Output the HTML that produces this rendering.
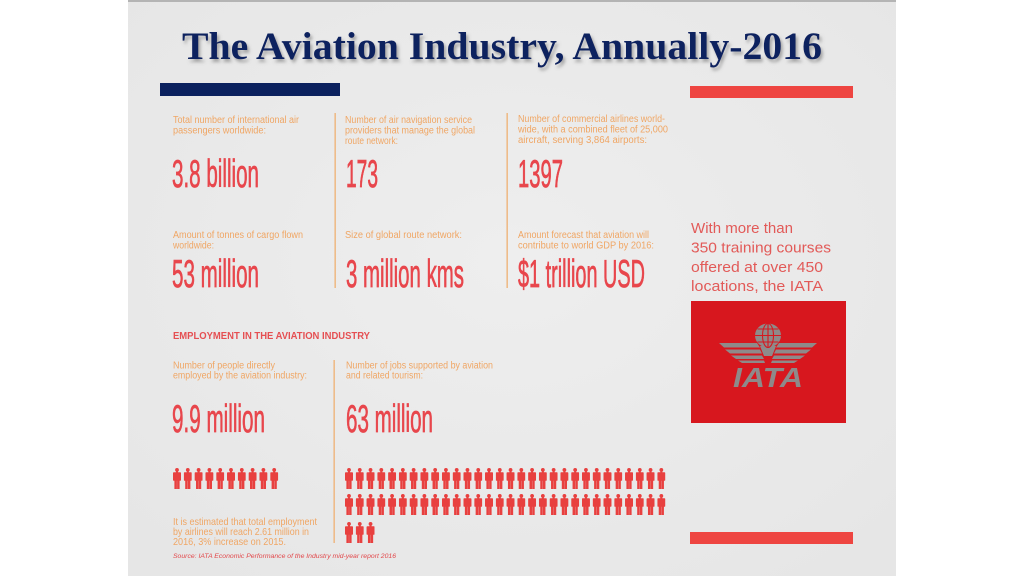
<!DOCTYPE html>
<html>
<head>
<meta charset="utf-8">
<style>
  html,body{margin:0;padding:0;background:#ffffff;}
  svg{display:block;}
  .lbl{font-family:"Liberation Sans",sans-serif;font-size:10px;fill:#f0a664;}
  .big{font-family:"Liberation Sans Narrow","Liberation Sans",sans-serif;font-size:39px;font-weight:normal;fill:#e8464c;stroke:#e8464c;stroke-width:0.7px;}
  .rt{font-family:"Liberation Sans",sans-serif;font-size:15px;fill:#e25a58;}
</style>
</head>
<body>
<svg width="1024" height="576" viewBox="0 0 1024 576" xmlns="http://www.w3.org/2000/svg">
  <defs>
    <radialGradient id="bg" cx="50%" cy="45%" r="70%">
      <stop offset="0" stop-color="#eeeeee"/>
      <stop offset="1" stop-color="#e6e6e6"/>
    </radialGradient>
    <filter id="sh" x="-5%" y="-20%" width="110%" height="150%">
      <feDropShadow dx="2" dy="3" stdDeviation="1.6" flood-color="#6a6a6a" flood-opacity="0.55"/>
    </filter>
    <symbol id="fig" viewBox="0 0 8 21" width="8" height="21">
      <circle cx="4" cy="1.9" r="1.9" fill="#e8403f"/>
      <rect x="3" y="3" width="2" height="2" fill="#e8403f"/>
      <rect x="0" y="4.2" width="8" height="8.6" rx="0.8" fill="#e8403f"/>
      <rect x="1.4" y="12" width="2.5" height="9" fill="#e8403f"/>
      <rect x="4.1" y="12" width="2.5" height="9" fill="#e8403f"/>
    </symbol>
  </defs>

  <!-- panel -->
  <rect x="128" y="0" width="768" height="576" fill="url(#bg)"/>
  <rect x="128" y="0" width="768" height="2" fill="#b4b4b4"/>

  <!-- title -->
  <text x="182" y="59" textLength="640" lengthAdjust="spacingAndGlyphs" filter="url(#sh)"
        style="font-family:'Liberation Serif',serif;font-weight:bold;font-size:39px;fill:#0f205e;">The Aviation Industry, Annually-2016</text>

  <!-- bars -->
  <rect x="160" y="83" width="180" height="13" fill="#0b215e"/>
  <rect x="690" y="86" width="163" height="12" fill="#ee4541"/>
  <rect x="690" y="532" width="163" height="12" fill="#ee4541"/>

  <!-- dividers -->
  <rect x="334.5" y="113" width="1.3" height="175" fill="#efb072"/>
  <rect x="506.5" y="113" width="1.3" height="175" fill="#efb072"/>
  <rect x="333.5" y="360" width="1.3" height="183" fill="#efb072"/>

  <!-- column 1 -->
  <text class="lbl" x="173" y="123" textLength="126" lengthAdjust="spacingAndGlyphs">Total number of international air</text>
  <text class="lbl" x="173" y="133.5" textLength="93" lengthAdjust="spacingAndGlyphs">passengers worldwide:</text>
  <text class="big" x="172" y="187" textLength="87" lengthAdjust="spacingAndGlyphs">3.8 billion</text>
  <text class="lbl" x="173" y="238" textLength="130" lengthAdjust="spacingAndGlyphs">Amount of tonnes of cargo flown</text>
  <text class="lbl" x="173" y="248.5" textLength="41" lengthAdjust="spacingAndGlyphs">worldwide:</text>
  <text class="big" x="172" y="287" textLength="87" lengthAdjust="spacingAndGlyphs">53 million</text>

  <!-- column 2 -->
  <text class="lbl" x="345" y="123" textLength="127" lengthAdjust="spacingAndGlyphs">Number of air navigation service</text>
  <text class="lbl" x="345" y="133.5" textLength="130" lengthAdjust="spacingAndGlyphs">providers that manage the global</text>
  <text class="lbl" x="345" y="144" textLength="53" lengthAdjust="spacingAndGlyphs">route network:</text>
  <text class="big" x="346" y="187" textLength="32" lengthAdjust="spacingAndGlyphs">173</text>
  <text class="lbl" x="345" y="238" textLength="117" lengthAdjust="spacingAndGlyphs">Size of global route network:</text>
  <text class="big" x="346" y="287" textLength="118" lengthAdjust="spacingAndGlyphs">3 million kms</text>

  <!-- column 3 -->
  <text class="lbl" x="518" y="122" textLength="147" lengthAdjust="spacingAndGlyphs">Number of commercial airlines world-</text>
  <text class="lbl" x="518" y="132.5" textLength="150" lengthAdjust="spacingAndGlyphs">wide, with a combined fleet of 25,000</text>
  <text class="lbl" x="518" y="143" textLength="129" lengthAdjust="spacingAndGlyphs">aircraft, serving 3,864 airports:</text>
  <text class="big" x="518" y="187" textLength="45" lengthAdjust="spacingAndGlyphs">1397</text>
  <text class="lbl" x="518" y="238" textLength="131" lengthAdjust="spacingAndGlyphs">Amount forecast that aviation will</text>
  <text class="lbl" x="518" y="248.5" textLength="136" lengthAdjust="spacingAndGlyphs">contribute to world GDP by 2016:</text>
  <text class="big" x="518" y="287" textLength="127" lengthAdjust="spacingAndGlyphs">$1 trillion USD</text>

  <!-- right text -->
  <text class="rt" x="691" y="233" textLength="102" lengthAdjust="spacingAndGlyphs">With more than</text>
  <text class="rt" x="691" y="252.5" textLength="140" lengthAdjust="spacingAndGlyphs">350 training courses</text>
  <text class="rt" x="691" y="272" textLength="132" lengthAdjust="spacingAndGlyphs">offered at over 450</text>
  <text class="rt" x="691" y="291" textLength="132" lengthAdjust="spacingAndGlyphs">locations, the IATA</text>

  <!-- IATA logo box -->
  <rect x="691" y="301" width="155" height="122" fill="#d7171e"/>
  <g fill="#8e8a8a">
    <ellipse cx="768" cy="335.5" rx="13" ry="12"/>
    <path d="M760 346 L776 346 L772 356 L764 356 Z"/>
    <path d="M719 343 L757 343 L760 347.5 L724 347.5 Z"/>
    <path d="M725 349.5 L760 349.5 L762 353.5 L730 353.5 Z"/>
    <path d="M731 355.5 L762 355.5 L764 359 L736 359 Z"/>
    <path d="M738 360.5 L764 360.5 L765 363 L742 363 Z"/>
    <path d="M817 343 L779 343 L776 347.5 L812 347.5 Z"/>
    <path d="M811 349.5 L776 349.5 L774 353.5 L806 353.5 Z"/>
    <path d="M805 355.5 L774 355.5 L772 359 L800 359 Z"/>
    <path d="M798 360.5 L772 360.5 L771 363 L794 363 Z"/>
  </g>
  <g stroke="#d7171e" stroke-width="1.1" fill="none">
    <ellipse cx="768" cy="335.5" rx="5.5" ry="12"/>
    <line x1="768" y1="323.5" x2="768" y2="347.5"/>
    <line x1="755" y1="335.5" x2="781" y2="335.5"/>
    <line x1="757.5" y1="329" x2="778.5" y2="329"/>
    <line x1="757.5" y1="342" x2="778.5" y2="342"/>
  </g>
  <text x="733" y="387" textLength="70" lengthAdjust="spacingAndGlyphs"
        style="font-family:'Liberation Sans',sans-serif;font-weight:bold;font-style:italic;font-size:28px;fill:#8e8a8a;">IATA</text>

  <!-- employment -->
  <text x="173" y="339" textLength="197" lengthAdjust="spacingAndGlyphs"
        style="font-family:'Liberation Sans',sans-serif;font-weight:bold;font-size:9.8px;fill:#e54f52;">EMPLOYMENT IN THE AVIATION INDUSTRY</text>
  <text class="lbl" x="173" y="368.5" textLength="102" lengthAdjust="spacingAndGlyphs">Number of people directly</text>
  <text class="lbl" x="173" y="378.5" textLength="134" lengthAdjust="spacingAndGlyphs">employed by the aviation industry:</text>
  <text class="lbl" x="346" y="368.5" textLength="147" lengthAdjust="spacingAndGlyphs">Number of jobs supported by aviation</text>
  <text class="lbl" x="346" y="378.5" textLength="77" lengthAdjust="spacingAndGlyphs">and related tourism:</text>
  <text class="big" x="172" y="432" textLength="93" lengthAdjust="spacingAndGlyphs">9.9 million</text>
  <text class="big" x="346" y="432" textLength="87" lengthAdjust="spacingAndGlyphs">63 million</text>

  <!-- figures left (10) -->
  <g>
    <use href="#fig" x="173" y="468"/>
    <use href="#fig" x="183.8" y="468"/>
    <use href="#fig" x="194.6" y="468"/>
    <use href="#fig" x="205.4" y="468"/>
    <use href="#fig" x="216.2" y="468"/>
    <use href="#fig" x="227" y="468"/>
    <use href="#fig" x="237.8" y="468"/>
    <use href="#fig" x="248.6" y="468"/>
    <use href="#fig" x="259.4" y="468"/>
    <use href="#fig" x="270.2" y="468"/>
  </g>

  <!-- figures right: rows of 30, 30, 3 -->
  <g id="row1">
    <use href="#fig" x="345" y="468"/>
    <use href="#fig" x="355.77" y="468"/>
    <use href="#fig" x="366.54" y="468"/>
    <use href="#fig" x="377.31" y="468"/>
    <use href="#fig" x="388.08" y="468"/>
    <use href="#fig" x="398.85" y="468"/>
    <use href="#fig" x="409.62" y="468"/>
    <use href="#fig" x="420.39" y="468"/>
    <use href="#fig" x="431.16" y="468"/>
    <use href="#fig" x="441.93" y="468"/>
    <use href="#fig" x="452.7" y="468"/>
    <use href="#fig" x="463.47" y="468"/>
    <use href="#fig" x="474.24" y="468"/>
    <use href="#fig" x="485.01" y="468"/>
    <use href="#fig" x="495.78" y="468"/>
    <use href="#fig" x="506.55" y="468"/>
    <use href="#fig" x="517.32" y="468"/>
    <use href="#fig" x="528.09" y="468"/>
    <use href="#fig" x="538.86" y="468"/>
    <use href="#fig" x="549.63" y="468"/>
    <use href="#fig" x="560.4" y="468"/>
    <use href="#fig" x="571.17" y="468"/>
    <use href="#fig" x="581.94" y="468"/>
    <use href="#fig" x="592.71" y="468"/>
    <use href="#fig" x="603.48" y="468"/>
    <use href="#fig" x="614.25" y="468"/>
    <use href="#fig" x="625.02" y="468"/>
    <use href="#fig" x="635.79" y="468"/>
    <use href="#fig" x="646.56" y="468"/>
    <use href="#fig" x="657.33" y="468"/>
  </g>
  <use href="#row1" x="0" y="26"/>
  <use href="#fig" x="345" y="522"/>
  <use href="#fig" x="355.77" y="522"/>
  <use href="#fig" x="366.54" y="522"/>

  <!-- bottom note -->
  <text class="lbl" x="173" y="525" textLength="144" lengthAdjust="spacingAndGlyphs" style="font-size:10.5px">It is estimated that total employment</text>
  <text class="lbl" x="173" y="535" textLength="136" lengthAdjust="spacingAndGlyphs" style="font-size:10.5px">by airlines will reach 2.61 million in</text>
  <text class="lbl" x="173" y="545" textLength="113" lengthAdjust="spacingAndGlyphs" style="font-size:10.5px">2016, 3% increase on 2015.</text>
  <text x="173" y="558" textLength="223" lengthAdjust="spacingAndGlyphs"
        style="font-family:'Liberation Sans',sans-serif;font-style:italic;font-size:6.5px;fill:#e2474a;">Source: IATA Economic Performance of the Industry mid-year report 2016</text>
</svg>
</body>
</html>
